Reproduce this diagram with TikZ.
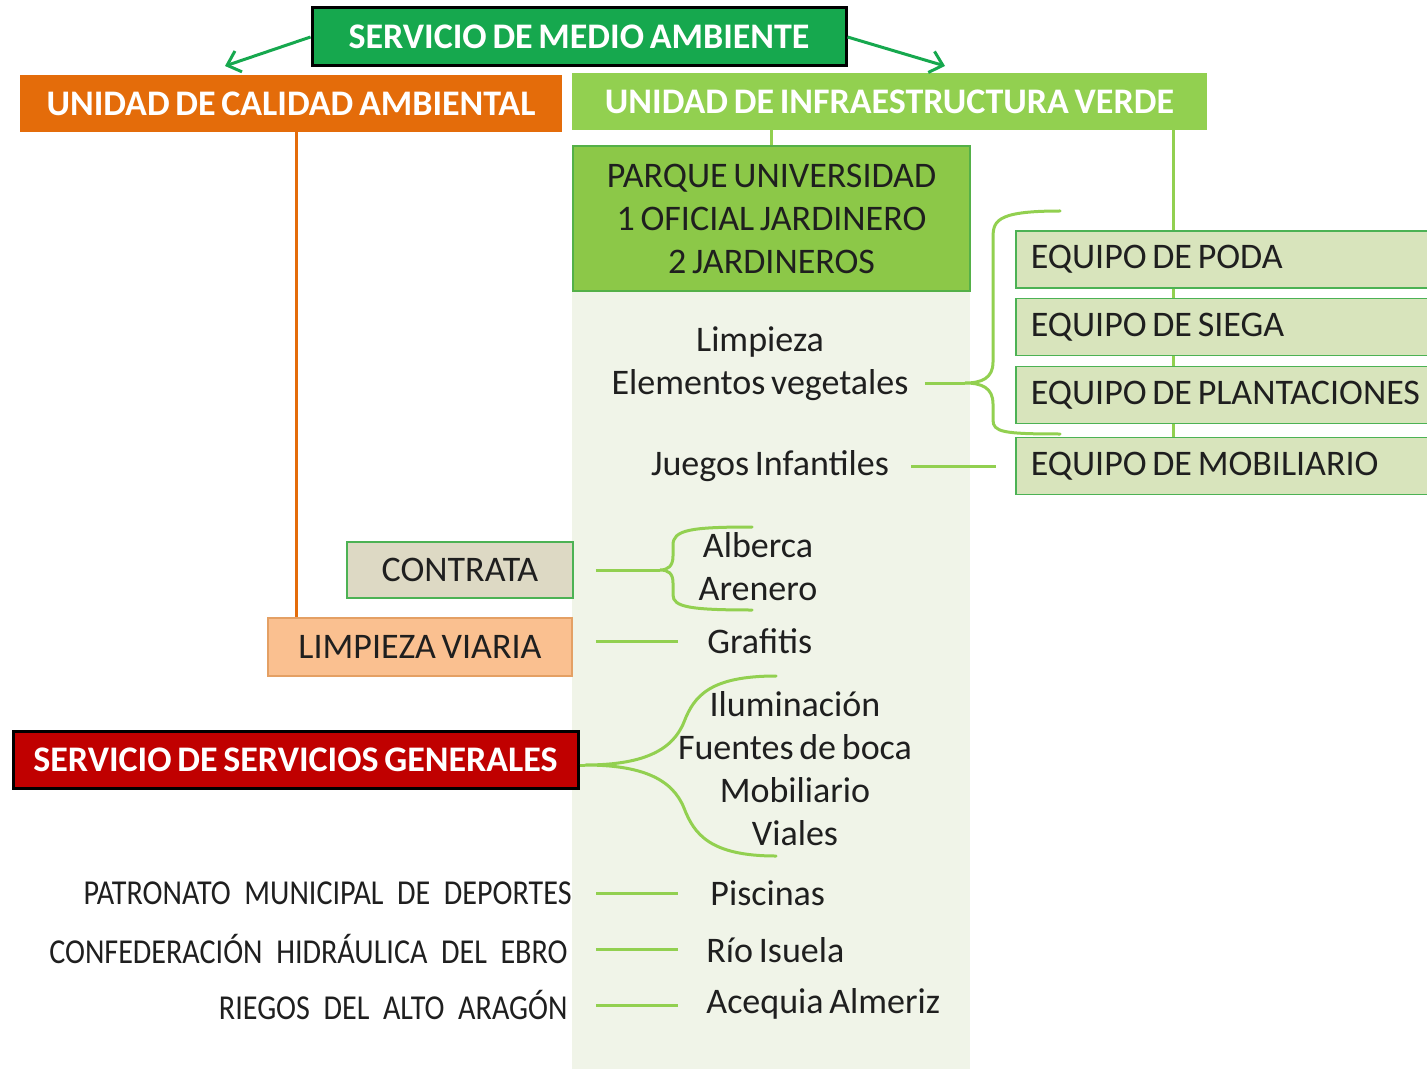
\documentclass[tikz,border=0pt]{standalone}
\usepackage{fontspec}
\setmainfont{Carlito}[WordSpace=0.7]
\newfontfamily\condensada{Carlito}[FakeStretch=0.86]
\usetikzlibrary{positioning, arrows.meta, backgrounds}

\definecolor{medioverde}{RGB}{22,168,78}
\definecolor{calidadnaranja}{RGB}{228,108,10}
\definecolor{verdeclaro}{RGB}{146,208,80}
\definecolor{parqueverde}{RGB}{140,200,72}
\definecolor{parqueborde}{RGB}{84,176,72}
\definecolor{panelfondo}{RGB}{240,244,232}
\definecolor{equipofondo}{RGB}{216,228,188}
\definecolor{equipoborde}{RGB}{76,178,84}
\definecolor{contratafondo}{RGB}{221,217,196}
\definecolor{viariafondo}{RGB}{250,192,144}
\definecolor{viariaborde}{RGB}{228,160,100}
\definecolor{generalesrojo}{RGB}{192,0,0}

\begin{document}
\begin{tikzpicture}[
    x=0.5pt, y=-0.5pt,
    titulo/.style={rectangle, text=white, font=\fontsize{18}{21}\selectfont\bfseries, inner sep=0pt},
    caja/.style={rectangle, inner sep=0pt, font=\fontsize{18}{21.5}\selectfont, text=black!88, align=center},
    equipo/.style={caja, fill=equipofondo, draw=equipoborde, line width=0.8pt, anchor=west, minimum height=28.5pt, text width=205pt, inner xsep=7.5pt, align=flush left},
    texto/.style={inner sep=0pt, font=\fontsize{18}{21.5}\selectfont, text=black!88, align=center},
    entidad/.style={inner sep=0pt, font=\condensada\fontsize{17.5}{20}\selectfont, text=black!88, anchor=east},
    enlace/.style={draw=verdeclaro, line width=1.5pt},
    llave/.style={draw=verdeclaro, line width=1.5pt, line cap=round},
    flecha/.style={draw=medioverde, line width=1.5pt, -{Straight Barb[length=6pt, width=11pt]}}
]
\useasboundingbox (0,0) rectangle (1427,1069);

% Servicio de medio ambiente
\node[titulo, fill=medioverde, draw=black, line width=1.5pt, minimum width=267pt, minimum height=29pt] (medio) at (579,37) {SERVICIO DE MEDIO AMBIENTE};
\coordinate (calin) at (225,66);
\coordinate (verdin) at (945,66);

% Unidades
\node[titulo, fill=calidadnaranja, minimum width=271pt, minimum height=28.5pt] (calidad) at (291,103.5) {UNIDAD DE CALIDAD AMBIENTAL};
\node[titulo, fill=verdeclaro, minimum width=317.5pt, minimum height=28.5pt] (verde) at (889.5,101.5) {UNIDAD DE INFRAESTRUCTURA VERDE};

% Parque
\node[caja, fill=parqueverde, draw=parqueborde, line width=0.8pt, minimum width=198.5pt, minimum height=72.5pt] (parque) at (771.5,218.5) {PARQUE UNIVERSIDAD\\1 OFICIAL JARDINERO\\2 JARDINEROS};

% Equipos
\node[equipo] (poda) at (1015,259.5) {EQUIPO DE PODA};
\node[equipo] (siega) at (1015,327) {EQUIPO DE SIEGA};
\node[equipo] (plantaciones) at (1015,395) {EQUIPO DE PLANTACIONES};
\node[equipo] (mobil) at (1015,466) {EQUIPO DE MOBILIARIO};
\coordinate (eqx) at (1173,130);

% Tareas del parque
\node[texto] (limpieza) at (760,342) {Limpieza};
\node[texto] (elementos) at (760,385) {Elementos vegetales};
\node[texto] (juegos) at (770,466) {Juegos Infantiles};
\coordinate (vegtop) at (1060,211);
\coordinate (vegtip) at (965,383);
\coordinate (vegbot) at (1060,434);

% Contrata y limpieza viaria
\node[caja, fill=contratafondo, draw=equipoborde, line width=0.8pt, minimum width=113pt, minimum height=28pt] (contrata) at (460,570) {CONTRATA};
\node[caja, fill=viariafondo, draw=viariaborde, line width=0.8pt, minimum width=152pt, minimum height=29pt] (viaria) at (420,647) {LIMPIEZA VIARIA};
\node[texto] (alberca) at (758,567) {Alberca\\Arenero};
\node[texto, anchor=west] (grafitis) at (707,641) {Grafitis};
\coordinate (albtop) at (752,527);
\coordinate (albtip) at (660,570);
\coordinate (albbot) at (752,610);

% Servicios generales
\node[titulo, fill=generalesrojo, draw=black, line width=1.5pt, minimum width=282.5pt, minimum height=28.5pt] (generales) at (295.5,759.5) {SERVICIO DE SERVICIOS GENERALES};
\node[texto] (instal) at (795,769) {Iluminación\\Fuentes de boca\\Mobiliario\\Viales};
\coordinate (gentop) at (776,676);
\coordinate (gentip) at (585,765);
\coordinate (genbot) at (776,856);

% Otras entidades
\node[entidad] (patronato) at (572,893) {PATRONATO\ \ MUNICIPAL\ \ DE\ \ DEPORTES};
\node[entidad] (confed) at (568,949) {CONFEDERACIÓN\ \ HIDRÁULICA\ \ DEL\ \ EBRO};
\node[entidad] (riegos) at (568,1005) {RIEGOS\ \ DEL\ \ ALTO\ \ ARAGÓN};
\node[texto, anchor=west] (piscinas) at (710,893) {Piscinas};
\node[texto, anchor=west] (rio) at (706,950) {Río Isuela};
\node[texto, anchor=west] (acequia) at (706,1004) {Acequia Almeriz};

% Flechas
\draw[flecha] (medio.west) -- (calin);
\draw[flecha] (medio.east) -- (verdin);

% Enlaces
\draw[enlace, shorten <=8pt] (elementos.east |- vegtip) -- (vegtip);
\draw[enlace, shorten <=11pt, shorten >=9.5pt] (juegos.east) -- (juegos.east -| mobil.west);
\draw[enlace, shorten <=11pt] (contrata.east) -- (albtip);
\draw[enlace, shorten <=11.5pt, shorten >=14.5pt] (viaria.east |- grafitis.west) -- (grafitis.west);
\draw[enlace] (generales.east |- gentip) -- (gentip);
\draw[enlace, shorten <=12pt, shorten >=16pt] (patronato.east) -- (patronato.east -| piscinas.west);
\draw[enlace, shorten <=14pt, shorten >=14pt] (confed.east) -- (confed.east -| rio.west);
\draw[enlace, shorten <=14pt, shorten >=14pt] (riegos.east) -- (riegos.east -| acequia.west);

% Llaves
\draw[llave] (vegtop) .. controls (993,211) and (993,222) .. (993,240) -- (993,362) .. controls (993,378) and (982,383) .. (vegtip) .. controls (982,383) and (993,388) .. (993,404) -- (993,420) .. controls (993,432) and (1003,434) .. (vegbot);
\draw[llave] (albtop) .. controls (690,527) and (673,530) .. (673,545) -- (673,556) .. controls (673,566) and (668,570) .. (albtip) .. controls (668,570) and (673,573) .. (673,583) -- (673,595) .. controls (673,607) and (690,610) .. (albbot);
\draw[llave] (gentop) .. controls (710,676) and (694,696) .. (684,722) .. controls (672,752) and (640,765) .. (gentip) .. controls (640,765) and (672,778) .. (684,808) .. controls (694,834) and (710,856) .. (genbot);

% Fondo y lineas de dependencia
\begin{scope}[on background layer]
\fill[panelfondo] (parque.south west) rectangle (970,1069);
\draw[calidadnaranja, line width=1.5pt] ([xshift=2.5pt]calidad.south) -- ([xshift=2.5pt]calidad.south |- viaria.north);
\draw[verdeclaro, line width=1.5pt] (verde.south -| parque.north) -- (parque.north);
\draw[verdeclaro, line width=1.5pt] (eqx) -- (eqx |- mobil.north);
\end{scope}

\end{tikzpicture}
\end{document}
